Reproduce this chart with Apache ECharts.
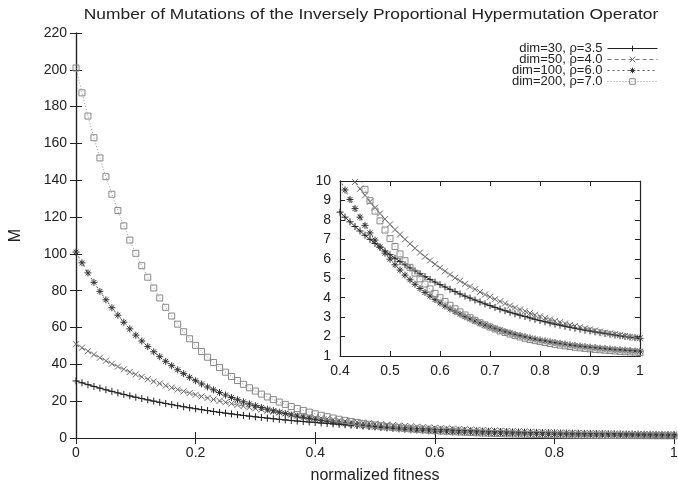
<!DOCTYPE html>
<html>
<head>
<meta charset="utf-8">
<script src="https://cdn.jsdelivr.net/npm/echarts@6/dist/echarts.min.js"></script>
<style>html,body{margin:0;padding:0;background:#fff;}#c{width:678px;height:491px;}</style>
</head>
<body>
<div id="c"></div>
<script>
const titleText = 'Number of Mutations of the Inversely Proportional Hypermutation Operator';
const xName = 'normalized fitness';
const yName = 'M';
const seriesNames = ['dim=30, ρ=3.5', 'dim=50, ρ=4.0', 'dim=100, ρ=6.0', 'dim=200, ρ=7.0'];

const xs = [0,0.01,0.02,0.03,0.04,0.05,0.06,0.07,0.08,0.09,0.1,0.11,0.12,0.13,0.14,0.15,0.16,0.17,0.18,0.19,0.2,0.21,0.22,0.23,0.24,0.25,0.26,0.27,0.28,0.29,0.3,0.31,0.32,0.33,0.34,0.35,0.36,0.37,0.38,0.39,0.4,0.41,0.42,0.43,0.44,0.45,0.46,0.47,0.48,0.49,0.5,0.51,0.52,0.53,0.54,0.55,0.56,0.57,0.58,0.59,0.6,0.61,0.62,0.63,0.64,0.65,0.66,0.67,0.68,0.69,0.7,0.71,0.72,0.73,0.74,0.75,0.76,0.77,0.78,0.79,0.8,0.81,0.82,0.83,0.84,0.85,0.86,0.87,0.88,0.89,0.9,0.91,0.92,0.93,0.94,0.95,0.96,0.97,0.98,0.99,1];

const dim30 = [31,29.97,28.97,28.01,27.08,26.18,25.32,24.48,23.67,22.89,22.14,21.41,20.71,20.03,19.38,18.75,18.14,17.55,16.98,16.43,15.90,15.39,14.89,14.41,13.95,13.51,13.08,12.66,12.26,11.87,11.50,11.14,10.79,10.45,10.13,9.81,9.51,9.22,8.93,8.66,8.40,8.14,7.90,7.66,7.43,7.21,7.00,6.79,6.59,6.40,6.21,6.03,5.86,5.69,5.53,5.38,5.23,5.08,4.94,4.80,4.67,4.55,4.43,4.31,4.19,4.08,3.98,3.88,3.78,3.68,3.59,3.50,3.41,3.33,3.25,3.17,3.10,3.03,2.96,2.89,2.82,2.76,2.70,2.64,2.59,2.53,2.48,2.43,2.38,2.33,2.29,2.24,2.20,2.16,2.12,2.08,2.04,2.01,1.97,1.94,1.91];

const dim50 = [51,49.04,47.16,45.35,43.61,41.94,40.33,38.79,37.31,35.88,34.52,33.20,31.94,30.73,29.56,28.44,27.36,26.33,25.34,24.38,23.47,22.59,21.74,20.93,20.14,19.39,18.67,17.98,17.31,16.67,16.06,15.47,14.90,14.36,13.83,13.33,12.85,12.38,11.94,11.51,11.09,10.70,10.32,9.95,9.60,9.26,8.94,8.63,8.33,8.04,7.77,7.50,7.25,7.00,6.77,6.54,6.32,6.11,5.91,5.72,5.54,5.36,5.19,5.02,4.87,4.71,4.57,4.43,4.29,4.16,4.04,3.92,3.81,3.70,3.59,3.49,3.39,3.30,3.21,3.12,3.04,2.96,2.88,2.81,2.74,2.67,2.60,2.54,2.48,2.42,2.37,2.31,2.26,2.21,2.16,2.12,2.07,2.03,1.99,1.95,1.92];

const dim100 = [101,95.18,89.69,84.53,79.66,75.08,70.77,66.70,62.88,59.27,55.88,52.69,49.68,46.84,44.17,41.66,39.29,37.06,34.96,32.98,31.12,29.37,27.71,26.16,24.69,23.31,22.01,20.79,19.64,18.55,17.53,16.57,15.66,14.81,14.00,13.25,12.53,11.86,11.23,10.63,10.07,9.54,9.05,8.58,8.14,7.72,7.33,6.96,6.61,6.29,5.98,5.69,5.42,5.16,4.92,4.69,4.47,4.27,4.08,3.90,3.73,3.57,3.42,3.28,3.15,3.02,2.91,2.80,2.69,2.59,2.50,2.41,2.33,2.25,2.18,2.11,2.05,1.99,1.93,1.87,1.82,1.78,1.73,1.69,1.65,1.61,1.57,1.54,1.51,1.48,1.45,1.43,1.40,1.38,1.36,1.33,1.32,1.30,1.28,1.26,1.25];

const dim200 = [201,187.48,174.87,163.12,152.16,141.94,132.41,123.53,115.24,107.52,100.32,93.60,87.34,81.50,76.06,70.99,66.26,61.84,57.73,53.90,50.32,46.99,43.88,40.98,38.27,35.75,33.41,31.21,29.17,27.27,25.49,23.84,22.29,20.85,19.51,18.26,17.09,16.00,14.99,14.04,13.16,12.34,11.57,10.86,10.19,9.57,8.99,8.45,7.95,7.48,7.04,6.63,6.25,5.90,5.56,5.26,4.97,4.70,4.45,4.22,4.00,3.80,3.61,3.43,3.27,3.11,2.97,2.84,2.71,2.60,2.49,2.39,2.29,2.21,2.13,2.05,1.98,1.91,1.85,1.79,1.74,1.69,1.64,1.60,1.56,1.52,1.49,1.45,1.42,1.39,1.37,1.34,1.32,1.30,1.28,1.26,1.24,1.22,1.21,1.20,1.18];

const FONT = 'Liberation Sans, Arial, Helvetica, sans-serif';
const chart = echarts.init(document.getElementById('c'), null, {renderer: 'canvas'});

function pairs(ys) { return xs.map((x, i) => [x, ys[i]]); }

const styles = [
  {data: dim30, symbol: 'path://M0,5L10,5M5,0L5,10', size: 7, mark: '#222', line: '#222', type: 'solid'},
  {data: dim50, symbol: 'path://M0,0L10,10M10,0L0,10', size: 6, mark: '#666', line: '#777', type: [4, 3]},
  {data: dim100, symbol: 'path://M0,5L10,5M5,0L5,10M1.5,1.5L8.5,8.5M8.5,1.5L1.5,8.5', size: 7, mark: '#333', line: '#555', type: [2, 3]},
  {data: dim200, symbol: 'path://M0,0L10,0L10,10L0,10Z', size: 6, mark: '#888', line: '#999', type: [1, 2]}
];

function mkSeries(k, xi, yi) {
  const s = styles[k];
  return {
    type: 'line', name: seriesNames[k], data: pairs(s.data),
    xAxisIndex: xi, yAxisIndex: yi,
    symbol: s.symbol, symbolSize: s.size, showAllSymbol: true, clip: true,
    lineStyle: {color: s.line, width: 1, type: s.type},
    itemStyle: {color: 'none', borderColor: s.mark, borderWidth: 1},
    emphasis: {disabled: true}, silent: true, z: 3 + k
  };
}

const lab = {color: '#222', fontSize: 14, fontFamily: FONT};
const axLine = {show: true, lineStyle: {color: '#222', width: 1.2}};

function xAx(grid, pos, min, max, interval, showLabel, tickLen, extra) {
  return Object.assign({
    type: 'value', gridIndex: grid, position: pos, min: min, max: max, interval: interval,
    axisLine: axLine, axisTick: {show: true, inside: true, length: tickLen, lineStyle: {color: '#222'}},
    axisLabel: Object.assign({show: showLabel, margin: 8, hideOverlap: false}, lab),
    splitLine: {show: false}
  }, extra || {});
}
function yAx(grid, pos, min, max, interval, showLabel, tickLen, extra) {
  return Object.assign({
    type: 'value', gridIndex: grid, position: pos, min: min, max: max, interval: interval,
    axisLine: axLine, axisTick: {show: true, inside: true, length: tickLen, lineStyle: {color: '#222'}},
    axisLabel: Object.assign({show: showLabel, margin: 9}, lab),
    splitLine: {show: false}
  }, extra || {});
}

const series = [];
for (let k = 0; k < 4; k++) series.push(mkSeries(k, 0, 0));
for (let k = 0; k < 4; k++) series.push(mkSeries(k, 2, 2));

const legendData = seriesNames.map((n, k) => ({
  name: n,
  lineStyle: {color: styles[k].line, width: 1, type: styles[k].type},
  itemStyle: {color: 'none', borderColor: styles[k].mark, borderWidth: 1}
}));

chart.setOption({
  animation: false,
  backgroundColor: '#fff',
  textStyle: {fontFamily: FONT},
  graphic: [{
    type: 'text', x: 371, y: 15, scaleX: 1.16,
    style: {text: titleText, fill: '#222', font: '15px ' + FONT, textAlign: 'center', textVerticalAlign: 'middle'}
  }],
  legend: {
    orient: 'vertical', right: 15, top: 37, align: 'right',
    itemWidth: 50, itemHeight: 7, itemGap: -2,
    textStyle: {fontSize: 13, color: '#222', fontFamily: FONT, lineHeight: 11},
    lineStyle: {width: 1},
    data: legendData, selectedMode: false
  },
  grid: [
    {left: 76, right: 4, top: 33, bottom: 53, containLabel: false, outerBoundsMode: 'none'},
    {left: 340, top: 181, width: 300, height: 175, show: true, backgroundColor: '#fff', borderWidth: 0, outerBoundsMode: 'none'}
  ],
  xAxis: [
    xAx(0, 'bottom', 0, 1, 0.2, true, 6, {name: xName, nameLocation: 'middle', nameGap: 30, nameTextStyle: {fontSize: 16, color: '#222', fontFamily: FONT}}),
    xAx(0, 'top', 0, 1, 0.2, false, 6),
    xAx(1, 'bottom', 0.4, 1, 0.1, true, 5),
    xAx(1, 'top', 0.4, 1, 0.1, false, 5)
  ],
  yAxis: [
    yAx(0, 'left', 0, 220, 20, true, 6, {name: yName, nameLocation: 'middle', nameGap: 52, nameTextStyle: {fontSize: 16, color: '#222', fontFamily: FONT}}),
    yAx(0, 'right', 0, 220, 20, false, 6),
    yAx(1, 'left', 1, 10, 1, true, 5),
    yAx(1, 'right', 1, 10, 1, false, 5)
  ],
  series: series
});
</script>
</body>
</html>
